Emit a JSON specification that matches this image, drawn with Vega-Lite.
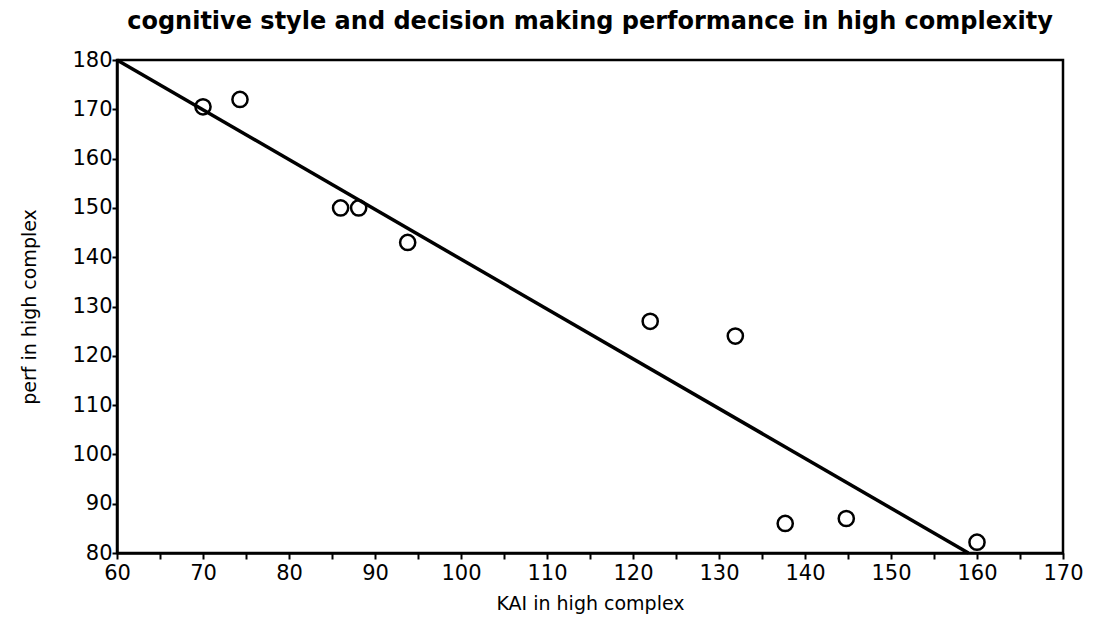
{
  "$schema": "https://vega.github.io/schema/vega-lite/v6.json",
  "width": 946,
  "height": 493,
  "autosize": "none",
  "padding": {"left": 117, "top": 60, "right": 31, "bottom": 70},
  "background": "white",
  "title": {
    "text": "cognitive  style  and  decision  making  performance  in  high  complexity",
    "font": "DejaVu Sans",
    "fontSize": 24,
    "fontWeight": "bold",
    "color": "black",
    "anchor": "middle",
    "offset": 15
  },
  "config": {
    "view": {"stroke": "black", "strokeWidth": 2.5},
    "axis": {
      "grid": false,
      "domainColor": "black",
      "domainWidth": 2.5,
      "tickColor": "black",
      "tickWidth": 2,
      "tickSize": 6,
      "labelColor": "black",
      "labelFont": "DejaVu Sans",
      "labelFontSize": 21,
      "titleFont": "DejaVu Sans",
      "titleFontSize": 19,
      "titleFontWeight": "normal",
      "titleColor": "black"
    }
  },
  "datasets": {
    "pts": [
      {"KAI": 70, "perf": 170.5},
      {"KAI": 74.3, "perf": 172},
      {"KAI": 86, "perf": 150},
      {"KAI": 88.1, "perf": 150},
      {"KAI": 93.8, "perf": 143},
      {"KAI": 122, "perf": 127},
      {"KAI": 131.9, "perf": 124},
      {"KAI": 137.7, "perf": 86},
      {"KAI": 144.8, "perf": 87},
      {"KAI": 160, "perf": 82.2}
    ],
    "fit": [
      {"KAI": 60, "perf": 180},
      {"KAI": 159, "perf": 80}
    ]
  },
  "layer": [
    {
      "data": {"name": "fit"},
      "mark": {"type": "line", "color": "black", "strokeWidth": 3.5},
      "encoding": {
        "x": {"field": "KAI", "type": "quantitative", "scale": {"domain": [60, 170], "nice": false, "zero": false},
          "axis": {"title": "KAI in high complex", "values": [60,65,70,75,80,85,90,95,100,105,110,115,120,125,130,135,140,145,150,155,160,165,170],
            "labelExpr": "datum.value % 10 == 0 ? datum.label : ''", "labelPadding": 3, "titlePadding": 11, "labelFlush": false}},
        "y": {"field": "perf", "type": "quantitative", "scale": {"domain": [80, 180], "nice": false, "zero": false},
          "axis": {"title": "perf in high complex", "values": [80,85,90,95,100,105,110,115,120,125,130,135,140,145,150,155,160,165,170,175,180],
            "labelExpr": "datum.value % 10 == 0 ? datum.label : ''", "labelPadding": 0, "titlePadding": 32, "labelFlush": false, "tickSize": 5}}
      }
    },
    {
      "data": {"name": "pts"},
      "mark": {"type": "point", "shape": "circle", "filled": false, "color": "black", "strokeWidth": 2.5, "size": 230, "opacity": 1},
      "encoding": {
        "x": {"field": "KAI", "type": "quantitative"},
        "y": {"field": "perf", "type": "quantitative"}
      }
    }
  ]
}
